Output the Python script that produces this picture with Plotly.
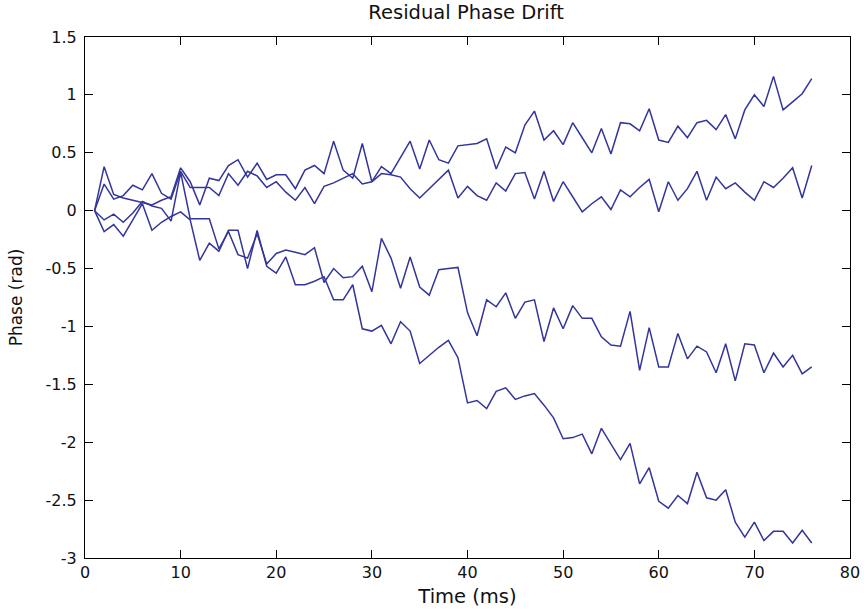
import plotly.graph_objects as go

time_ms = list(range(1, 77))

phase_a = [0, 0.38, 0.14, 0.11, 0.09, 0.07, 0.05, 0.09, 0.12, 0.37,
           0.25, 0.05, 0.28, 0.26, 0.39, 0.44, 0.29, 0.41, 0.27, 0.31,
           0.31, 0.19, 0.35, 0.39, 0.32, 0.60, 0.35, 0.28, 0.58, 0.25,
           0.38, 0.32, 0.46, 0.60, 0.36, 0.61, 0.44, 0.41, 0.56, 0.57,
           0.58, 0.62, 0.36, 0.55, 0.50, 0.74, 0.86, 0.61, 0.69, 0.57,
           0.76, 0.63, 0.50, 0.71, 0.49, 0.76, 0.75, 0.69, 0.88, 0.61,
           0.59, 0.73, 0.63, 0.76, 0.78, 0.70, 0.83, 0.62, 0.87, 1.00,
           0.90, 1.16, 0.87, 0.94, 1.01, 1.14]

phase_b = [0, 0.23, 0.10, 0.13, 0.22, 0.18, 0.32, 0.15, 0.10, 0.34,
           0.20, 0.20, 0.20, 0.13, 0.32, 0.22, 0.34, 0.30, 0.20, 0.25,
           0.16, 0.09, 0.20, 0.06, 0.21, 0.24, 0.28, 0.32, 0.23, 0.25,
           0.32, 0.31, 0.29, 0.19, 0.11, 0.19, 0.27, 0.35, 0.11, 0.21,
           0.13, 0.09, 0.24, 0.17, 0.32, 0.33, 0.10, 0.34, 0.08, 0.25,
           0.12, -0.01, 0.06, 0.12, 0.01, 0.18, 0.12, 0.20, 0.27, -0.01,
           0.25, 0.09, 0.19, 0.34, 0.09, 0.29, 0.19, 0.24, 0.16, 0.09,
           0.25, 0.20, 0.28, 0.37, 0.11, 0.39]

phase_c = [0, -0.08, -0.03, -0.10, -0.02, 0.08, 0.04, 0.02, -0.09, 0.33,
           -0.07, -0.07, -0.07, -0.33, -0.18, -0.38, -0.41, -0.20, -0.46, -0.37,
           -0.34, -0.36, -0.38, -0.32, -0.62, -0.50, -0.58, -0.57, -0.48, -0.70,
           -0.24, -0.41, -0.67, -0.40, -0.66, -0.73, -0.51, -0.50, -0.49, -0.88,
           -1.08, -0.77, -0.83, -0.71, -0.93, -0.79, -0.77, -1.13, -0.84, -1.02,
           -0.82, -0.93, -0.93, -1.09, -1.16, -1.17, -0.87, -1.38, -1.01, -1.35,
           -1.35, -1.06, -1.28, -1.17, -1.22, -1.40, -1.15, -1.47, -1.15, -1.16,
           -1.40, -1.23, -1.35, -1.25, -1.41, -1.35]

phase_d = [0, -0.18, -0.12, -0.22, -0.08, 0.06, -0.17, -0.10, -0.05, -0.01,
           -0.08, -0.43, -0.28, -0.35, -0.17, -0.17, -0.50, -0.17, -0.48, -0.54,
           -0.40, -0.64, -0.64, -0.61, -0.57, -0.77, -0.77, -0.64, -1.02, -1.04,
           -0.99, -1.15, -0.96, -1.04, -1.32, -1.25, -1.18, -1.12, -1.27, -1.66,
           -1.64, -1.71, -1.56, -1.53, -1.63, -1.60, -1.58, -1.68, -1.79, -1.97,
           -1.96, -1.93, -2.10, -1.88, -2.01, -2.15, -2.01, -2.36, -2.22, -2.51,
           -2.57, -2.46, -2.53, -2.26, -2.48, -2.50, -2.41, -2.69, -2.82, -2.69,
           -2.85, -2.77, -2.77, -2.87, -2.76, -2.87]

x_ticks = [0, 10, 20, 30, 40, 50, 60, 70, 80]
y_ticks = [1.5, 1, 0.5, 0, -0.5, -1, -1.5, -2, -2.5, -3]
y_tick_text = ["1.5", "1", "0.5", "0", "-0.5", "-1", "-1.5", "-2", "-2.5", "-3"]

line_color = "#33359a"

fig = go.Figure()
for series in [phase_a, phase_b, phase_c, phase_d]:
    fig.add_trace(go.Scatter(x=time_ms, y=series, mode="lines",
                             line=dict(color=line_color, width=1.5),
                             showlegend=False, hoverinfo="skip"))

font_family = "DejaVu Sans, Liberation Sans, Arial, sans-serif"

fig.update_layout(
    width=864, height=610,
    margin=dict(l=85, r=14, t=37, b=52, autoexpand=False),
    paper_bgcolor="white", plot_bgcolor="white",
    font=dict(family=font_family, size=16, color="#111111"),
    title=dict(text="Residual Phase Drift", x=0.5395, xanchor="center",
               y=0.980, yanchor="middle", automargin=False,
               font=dict(size=19.5, color="#111111")),
)
fig.update_xaxes(
    range=[0, 80], tickvals=x_ticks, ticktext=[str(v) for v in x_ticks],
    showgrid=False, zeroline=False, showline=True, linecolor="black", linewidth=1,
    mirror="ticks", ticks="inside", ticklen=8, tickcolor="black",
    automargin=False,
    title=dict(text="Time (ms)", standoff=8, font=dict(size=19.5)),
    tickfont=dict(size=16),
)
fig.update_yaxes(
    range=[-3, 1.5], tickvals=y_ticks, ticktext=y_tick_text,
    showgrid=False, zeroline=False, showline=True, linecolor="black", linewidth=1,
    mirror="ticks", ticks="inside", ticklen=8, tickcolor="black",
    automargin=False,
    title=dict(text="Phase (rad)", standoff=18, font=dict(size=17)),
    tickfont=dict(size=16), ticklabelstandoff=4,
)

fig.write_html("out.html")
